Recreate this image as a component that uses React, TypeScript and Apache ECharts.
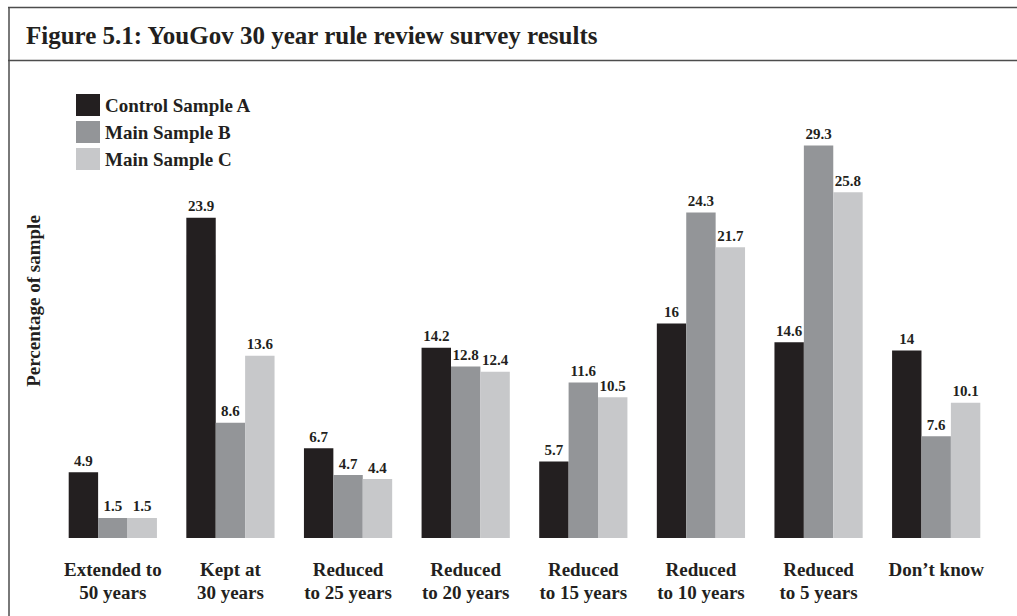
import React, { useEffect, useRef } from "react";
import * as echarts from "echarts";

const categories = [
  "Extended to\n50 years",
  "Kept at\n30 years",
  "Reduced\nto 25 years",
  "Reduced\nto 20 years",
  "Reduced\nto 15 years",
  "Reduced\nto 10 years",
  "Reduced\nto 5 years",
  "Don\u2019t know",
];

const controlSampleA = [4.9, 23.9, 6.7, 14.2, 5.7, 16, 14.6, 14];
const mainSampleB = [1.5, 8.6, 4.7, 12.8, 11.6, 24.3, 29.3, 7.6];
const mainSampleC = [1.5, 13.6, 4.4, 12.4, 10.5, 21.7, 25.8, 10.1];

const seriesNames = ["Control Sample A", "Main Sample B", "Main Sample C"];
const seriesColors = ["#231f20", "#939598", "#c7c8ca"];

const FONT = "'Liberation Serif', 'Times New Roman', serif";
const INK = "#231f20";

export default function App() {
  const ref = useRef<HTMLDivElement>(null);

  useEffect(() => {
    document.body.style.margin = "0";
    if (!ref.current) return;
    const chart = echarts.init(ref.current, null, { renderer: "svg" });
    const values = [controlSampleA, mainSampleB, mainSampleC];

    chart.setOption({
      animation: false,
      backgroundColor: "#ffffff",
      textStyle: { fontFamily: FONT },
      legend: {
        orient: "vertical",
        left: 71,
        top: 89,
        itemWidth: 24,
        itemHeight: 22,
        itemGap: 5,
        icon: "rect",
        data: seriesNames,
        textStyle: {
          fontFamily: FONT,
          fontWeight: "bold",
          fontSize: 19,
          color: INK,
        },
      },
      grid: { left: 54, right: 22, top: 136, bottom: 78 },
      xAxis: {
        type: "category",
        data: categories,
        axisLine: { show: false },
        axisTick: { show: false },
        axisLabel: {
          interval: 0,
          margin: 20,
          fontFamily: FONT,
          fontWeight: "bold",
          fontSize: 19,
          lineHeight: 23,
          color: INK,
          verticalAlign: "top",
        },
      },
      yAxis: {
        type: "value",
        min: 0,
        max: 30,
        show: false,
        splitLine: { show: false },
      },
      series: seriesNames.map((name, i) => ({
        name,
        type: "bar",
        data: values[i],
        barGap: "0%",
        barCategoryGap: "25%",
        itemStyle: { color: seriesColors[i] },
        label: {
          show: true,
          position: "top",
          distance: 4,
          fontFamily: FONT,
          fontWeight: "bold",
          fontSize: 15,
          color: INK,
        },
      })),
      graphic: [
        {
          type: "line",
          shape: { x1: 8, y1: 7.5, x2: 1017, y2: 7.5 },
          style: { stroke: "#4d4d4d", lineWidth: 1.5 },
        },
        {
          type: "line",
          shape: { x1: 8, y1: 60.5, x2: 1017, y2: 60.5 },
          style: { stroke: "#4d4d4d", lineWidth: 1.5 },
        },
        {
          type: "line",
          shape: { x1: 9, y1: 7, x2: 9, y2: 616 },
          style: { stroke: "#4d4d4d", lineWidth: 1.5 },
        },
        {
          type: "text",
          x: 26,
          y: 35,
          style: {
            text: "Figure 5.1: YouGov 30 year rule review survey results",
            fontFamily: FONT,
            fontWeight: "bold",
            fontSize: 25,
            fill: INK,
            align: "left",
            verticalAlign: "middle",
          },
        },
        {
          type: "text",
          x: 33,
          y: 301,
          rotation: Math.PI / 2,
          style: {
            text: "Percentage of sample",
            fontFamily: FONT,
            fontWeight: "bold",
            fontSize: 19,
            fill: INK,
            align: "center",
            verticalAlign: "middle",
          },
        },
      ],
    });

    return () => chart.dispose();
  }, []);

  return <div ref={ref} style={{ width: 1017, height: 616 }} />;
}
